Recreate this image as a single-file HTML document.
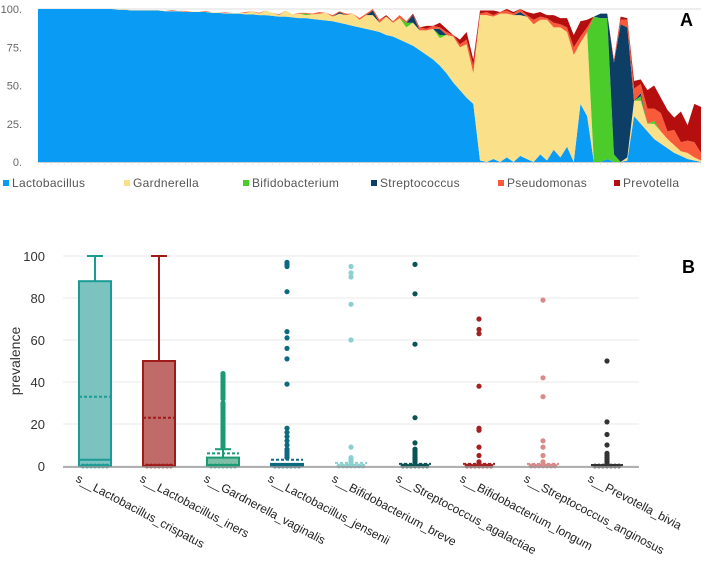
<!DOCTYPE html>
<html><head><meta charset="utf-8"><style>
body{margin:0;background:#fff;width:708px;height:572px;overflow:hidden;font-family:"Liberation Sans",sans-serif}
svg{display:block}
</style></head><body>
<svg id="fig" width="708" height="572">
<g id="panelA"></g>
<g id="panelB"></g>
<text x="680" y="26" font-size="18" font-weight="bold">A</text>
<text x="682" y="273" font-size="18" font-weight="bold">B</text>
</svg>
<script>
const NS="http://www.w3.org/2000/svg";
const genera=["Lactobacillus","Gardnerella","Bifidobacterium","Streptococcus","Pseudomonas","Prevotella"];
const genusColors=["#0a9bf5","#fbe08a","#4ccc2a","#0d3e66","#f95a3a","#b50e0e"];
const lacto=[100,100,100,100,100,100,100,100,100,100,100,100,99.5,99.5,99,99,99,99,99,98.5,98.5,98.5,98,98,98,98,97.5,97.5,97,97,97,96.5,96.5,96,96,95.5,95,95,94.5,94,94,93.5,93,92.5,92,91,90,89,88,87,86,85,83,82,80,78,76,73,70,67,63,58,52,47,42,38,1,0,2,0,3,0,4,2,0,5,1,8,3,10,0,38,30,0,0,2,0,0,1,30,25,20,15,12,9,6,4,2,1,0];
const gard=[0,0,0,0,0,0,0,0,0,0,0,0,.3,.3,.3,.3,.3,.3,.3,.3,.3,.3,.3,.3,.3,.3,.3,.3,.3,.3,.3,1,2,1,3,2,1,4,2,3,2,3,4,5,3,6,6,8,5,9,10,6,12,9,14,10,15,13,16,20,18,25,30,28,35,20,95,96,93,97,94,96,92,93,90,88,92,80,85,75,70,40,55,0,0,0,0,0,2,10,15,5,10,8,6,5,3,4,2,1];
const bifido=[0,0,0,0,0,0,0,0,0,0,0,0,0,0,0,0,0,0,0,0,0,0,0,0,0,0,0,0,0,0,0,0,0,0,0,0,0,0,0,0,1,0,0,0,0,0,0,0,0,0,0,0,0,0,0,3,0,0,0,0,2,0,0,0,0,0,0,0,0,0,0,0,0,0,0,0,0,0,0,0,0,0,0,95,94,92,5,0,0,0,3,0,2,0,0,0,0,0,0,0];
const strep=[0,0,0,0,0,0,0,0,0,0,0,0,0,0,0,0,0,0,0,0,0,0,0,0,0,0,0,0,0,0,0,0,0,0,0,0,0,0,0,0,0,0,0,0,0,1,0,0,0,0,3,0,0,0,0,0,5,0,0,0,4,0,0,0,0,0,0,0,0,0,0,0,2,0,0,0,0,0,0,0,0,0,0,0,3,3,60,90,85,0,2,0,0,0,0,0,0,0,0,0];
const pseudo=[0,0,0,0,0,0,0,0,0,0,0,0,0,0,0,0,0,0,0,0,.5,0,.5,0,0,.5,0,0,.5,0,0,.5,0,.5,0,0,.5,0,0,.5,.5,.5,1,0,1,.5,1,0,1,1,1,2,0,1,2,1,0,2,1,2,1,2,1,2,3,5,1,2,1,1,2,1,2,1,3,2,1,3,2,3,5,4,3,0,0,0,2,3,5,8,6,10,8,12,5,10,6,8,10,5];
const prevo=[0,0,0,0,0,0,0,0,0,0,0,0,0,0,0,0,0,0,0,0,0,0,0,0,0,0,0,0,0,0,0,0,0,0,0,0,0,0,0,0,0,0,0,0,0,0,0,0,0,0,0,0,1,0,0,0,1,0,2,0,3,2,0,3,5,4,2,1,3,0,2,1,3,2,4,3,2,5,4,6,8,10,5,0,0,0,0,2,1,5,3,12,15,10,14,8,20,10,25,30];
const aTicks=["100.","75.","50.","25.","0."];
const aTickVals=[100,75,50,25,0];

const categories=["s__Lactobacillus_crispatus","s__Lactobacillus_iners","s__Gardnerella_vaginalis","s__Lactobacillus_jensenii","s__Bifidobacterium_breve","s__Streptococcus_agalactiae","s__Bifidobacterium_longum","s__Streptococcus_anginosus","s__Prevotella_bivia"];
const q1=[0,0,0,0,0,0,0,0,0];
const medians=[3,0,0.5,0.3,0,0,0,0,0];
const q3=[88,50,4,1,0,0,0,0,0];
const whiskerHi=[100,100,8,1,0,0,0,0,0];
const means=[33,23,6,3,1.5,1,1,1,0.5];
const outliers=[[],[],
[44,43,42,41,40,39,38,37,36,35,34,33,32,30,29,28,27,26,25,24,23,22,21,20,19,18,17,16,15,14,13,12,11,10,9],
[97,96,95,83,64,61,56,51,39,18,16,14,12,10,8,7,6,5,4],
[95,92,90,77,60,9,4,3,2,1],
[96,82,58,23,11,8,7,6,5,4,3,2,1],
[70,65,63,38,18,17,9,5,2,1],
[79,42,33,12,9,5,2,1],
[50,21,15,10,6,5,4,3,2,1]];
const bTicks=[0,20,40,60,80,100];
const catColors=["#1a9b96","#a01a1a","#1a9b73","#0d6b80","#8ccfcf","#0b5456","#a52020","#d98a8a","#333333"];
const catFills=["#7cc3bf","#c06a6a","#7cbfa6","#0d6b80","#8ccfcf","#0b5456","#a52020","#d98a8a","#333333"];

function mk(tag,attrs,parent,txt){const e=document.createElementNS(NS,tag);for(const k in attrs)e.setAttribute(k,attrs[k]);if(txt!==undefined)e.textContent=txt;parent.appendChild(e);return e;}

// Panel A
const A=document.getElementById('panelA');
const ax0=38,ax1=701,ay0=162,ay1=9;
const N=lacto.length;
const xA=i=>ax0+i*(ax1-ax0)/(N-1);
const yA=v=>ay0-(v/100)*(ay0-ay1);
aTickVals.forEach((v,k)=>{
  const t=mk('text',{x:22,y:yA(v)+4,'font-size':11,fill:'#666','text-anchor':'end'},A,aTicks[k]);
  
  
});
const gl=mk('line',{x1:ax0,x2:ax1,y1:yA(100),y2:yA(100),stroke:'#ddd'},A);


const series=[lacto,gard,bifido,strep,pseudo,prevo];
let base=new Array(N).fill(0);
series.forEach((s,si)=>{
  const top=base.map((b,i)=>Math.min(100,b+s[i]));
  let d='M'+xA(0)+','+yA(top[0]);
  for(let i=1;i<N;i++)d+=' L'+xA(i)+','+yA(top[i]);
  for(let i=N-1;i>=0;i--)d+=' L'+xA(i)+','+yA(base[i]);
  d+='Z';
  const p=mk('path',{d:d,fill:genusColors[si],stroke:'none'},A);
  
  
  base=top;
});
const bl=mk('line',{x1:ax0,x2:ax1,y1:ay0+0.5,y2:ay0+0.5,stroke:'#ccc'},A);


for(let i=0;i<N;i++){const tk=mk('line',{x1:xA(i),x2:xA(i),y1:ay0,y2:ay0+3,stroke:'#ddd','stroke-width':0.6},A);
  
  }
const legX=[3,124,243,371,498,614];
genera.forEach((g,k)=>{
  const gg=mk('g',{},A);
  
  
  mk('rect',{x:legX[k],y:180,width:6,height:6,fill:genusColors[k]},gg);
  mk('text',{x:legX[k]+9,y:187,'font-size':12,fill:'#555','letter-spacing':'0.3'},gg,g);
});

// Panel B
const B=document.getElementById('panelB');
const bx0=63,bx1=639,by0=466,by1=256;
const yB=v=>by0-(v/100)*(by0-by1);
const step=(bx1-bx0)/categories.length;
const xB=i=>bx0+step*(i+0.5);
bTicks.forEach(v=>{
  const l=mk('line',{x1:bx0,x2:bx1,y1:yB(v),y2:yB(v),stroke:'#eeeeee','stroke-width':1.2},B);
  
  
  const t=mk('text',{x:45,y:yB(v)+5,'font-size':13,fill:'#333','text-anchor':'end'},B,v);
  
  
});
const yt=mk('text',{x:0,y:0,'font-size':14,fill:'#333','text-anchor':'middle',transform:'translate(20,361) rotate(-90)'},B,'prevalence');


const bw=32;
categories.forEach((c,i)=>{
  const cx=xB(i),col=catColors[i];
  const g=mk('g',{},B);
  
  
  if(whiskerHi[i]>q3[i]){
    mk('line',{x1:cx,x2:cx,y1:yB(q3[i]),y2:yB(whiskerHi[i]),stroke:col,'stroke-width':2},g);
    mk('line',{x1:cx-8,x2:cx+8,y1:yB(whiskerHi[i]),y2:yB(whiskerHi[i]),stroke:col,'stroke-width':2},g);
  }
  if(q3[i]>q1[i]){
    mk('rect',{x:cx-bw/2,y:yB(q3[i]),width:bw,height:yB(q1[i])-yB(q3[i]),fill:catFills[i],'fill-opacity':i<3?1:0.5,stroke:col,'stroke-width':2},g);
    mk('line',{x1:cx-bw/2,x2:cx+bw/2,y1:yB(medians[i]),y2:yB(medians[i]),stroke:col,'stroke-width':2},g);
  }
  // zero row dots
  for(let k=-12;k<=12;k+=4){mk('circle',{cx:cx+k,cy:yB(0),r:2.4,fill:col},g);}
  outliers[i].forEach(v=>{
    const pt=mk('circle',{cx:cx,cy:yB(v),r:2.6,fill:col},g);
    
    
  });
  const mn=mk('line',{x1:cx-bw/2,x2:cx+bw/2,y1:yB(means[i]),y2:yB(means[i]),stroke:col,'stroke-width':2,'stroke-dasharray':'3,2'},g);
  
  
  const lt=mk('text',{x:0,y:0,'font-size':12,fill:'#222',transform:'translate('+(cx-20)+',481) rotate(28)'},B,c);
  
  
});
const xb=mk('line',{x1:bx0,x2:bx1,y1:by0+1,y2:by0+1,stroke:'#999','stroke-width':1.5},B);


</script>
</body></html>
